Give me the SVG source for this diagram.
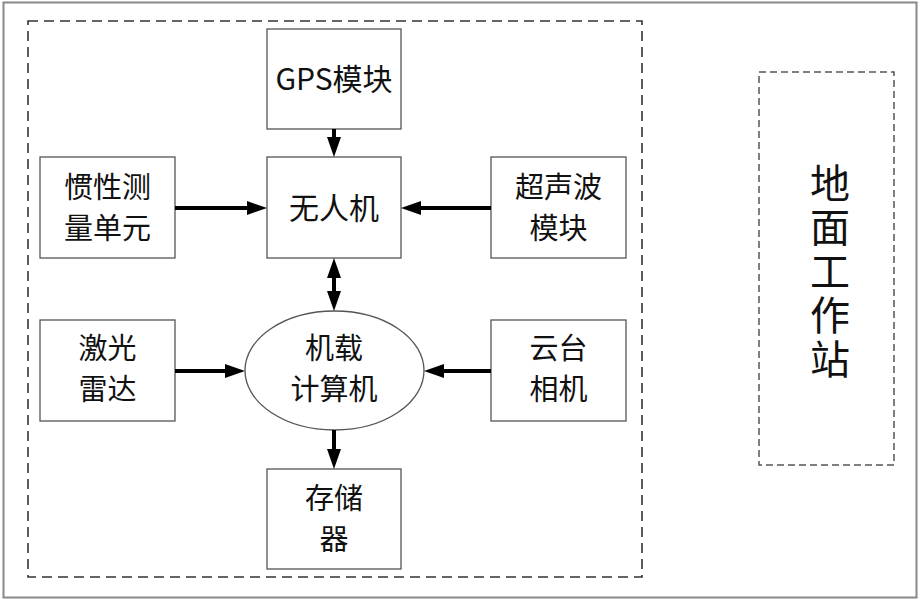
<svg xmlns="http://www.w3.org/2000/svg" width="919" height="599" viewBox="0 0 919 599">
<style>
.box{fill:#fff;stroke:#555;stroke-width:1.3}
.dash{fill:none;stroke:#333;stroke-width:1.6;stroke-dasharray:10,6}
.t{font-family:"Noto Sans CJK SC","Liberation Serif",serif;font-size:29px;fill:#111;text-anchor:middle}
.one{font-size:30px}
.big{font-size:40px;writing-mode:vertical-rl;letter-spacing:4px}
.c{stroke:#000;stroke-width:4;fill:none;marker-end:url(#ah)}
</style>
<defs>
<marker id="ah" markerUnits="userSpaceOnUse" markerWidth="20" markerHeight="14" refX="10" refY="7" orient="auto-start-reverse" viewBox="0 0 20 14">
<path d="M0,0 L20,7 L0,14 z" fill="#000"/>
</marker>
</defs>
<rect x="3.5" y="2.5" width="913" height="595" fill="#fff" stroke="#888" stroke-width="2"/>
<rect x="28" y="21" width="614" height="556" class="dash"/>
<g id="gps"><rect class="box" x="267" y="29" width="134" height="100"/><text class="t one" x="334" y="90">GPS模块</text></g>
<g id="uav"><rect class="box" x="267" y="157" width="134" height="101"/><text class="t one" x="334" y="219">无人机</text></g>
<g id="imu"><rect class="box" x="40" y="157" width="135" height="101"/><text class="t" x="107.5" y="198">惯性测<tspan x="107.5" dy="41">量单元</tspan></text></g>
<g id="ultra"><rect class="box" x="491" y="157" width="135" height="101"/><text class="t" x="558.5" y="198">超声波<tspan x="558.5" dy="41">模块</tspan></text></g>
<g id="lidar"><rect class="box" x="40" y="320" width="135" height="101"/><text class="t" x="107.5" y="359">激光<tspan x="107.5" dy="41">雷达</tspan></text></g>
<g id="camera"><rect class="box" x="491" y="320" width="135" height="101"/><text class="t" x="558.5" y="359">云台<tspan x="558.5" dy="41">相机</tspan></text></g>
<g id="computer"><ellipse class="box" cx="334.5" cy="370.5" rx="89.5" ry="59.5"/><text class="t" x="334" y="359">机载<tspan x="334" dy="41">计算机</tspan></text></g>
<g id="storage"><rect class="box" x="267" y="469" width="134" height="100"/><text class="t" x="334" y="509">存储<tspan x="334" dy="41">器</tspan></text></g>
<g id="ground"><rect x="759" y="72" width="135" height="393" style="fill:none;stroke:#555;stroke-width:1.5;stroke-dasharray:7,4"/>
<text class="t big" x="830" y="273">地面工作站</text></g>
<g id="connectors">
<line class="c" x1="334" y1="129" x2="334" y2="147"/>
<line class="c" x1="175" y1="208" x2="257" y2="208"/>
<line class="c" x1="491" y1="208" x2="411" y2="208"/>
<line class="c" x1="334" y1="268" x2="334" y2="301" style="marker-start:url(#ah)"/>
<line class="c" x1="175" y1="371" x2="235" y2="371"/>
<line class="c" x1="491" y1="371" x2="434" y2="371"/>
<line class="c" x1="334" y1="430" x2="334" y2="459"/>
</g>
</svg>
